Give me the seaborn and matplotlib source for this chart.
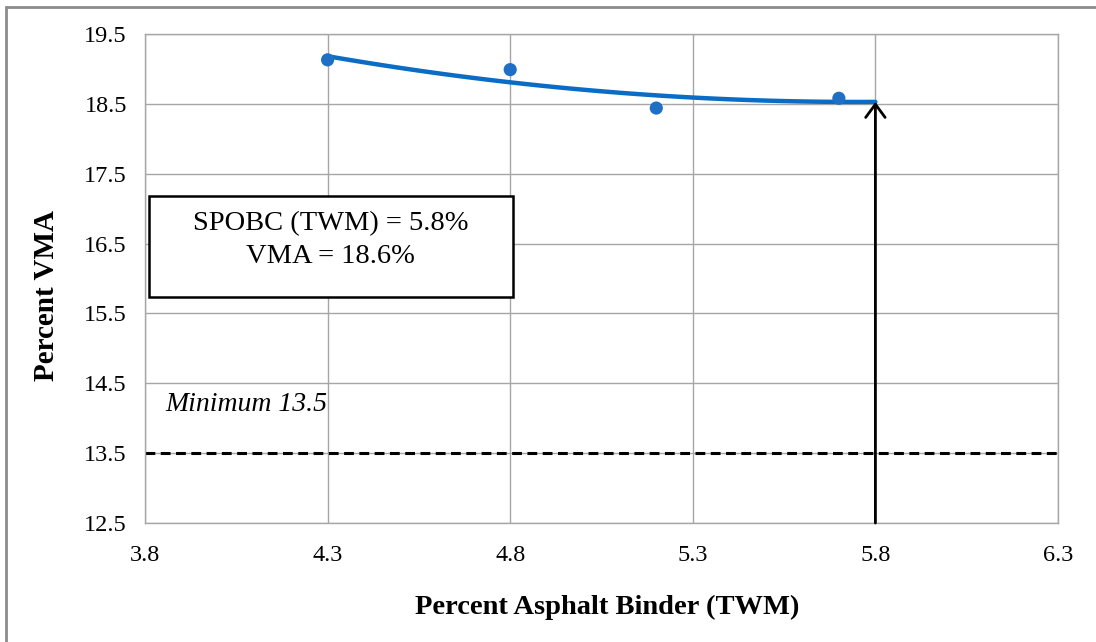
import numpy as np
import pandas as pd
import seaborn as sns
import matplotlib
matplotlib.use("Agg")
import matplotlib.pyplot as plt
from matplotlib.patches import Rectangle

# ---- data ----
binder = [4.3, 4.8, 5.2, 5.7]
vma = [19.13, 18.99, 18.44, 18.58]
x_ticks = [3.8, 4.3, 4.8, 5.3, 5.8, 6.3]
y_ticks = [12.5, 13.5, 14.5, 15.5, 16.5, 17.5, 18.5, 19.5]
optimum_binder = 5.8
minimum_vma = 13.5
box_text = "SPOBC (TWM) = 5.8%\nVMA = 18.6%"
min_text = "Minimum 13.5"

sns.set_style("white")
plt.rcParams['font.family'] = ['Liberation Serif', 'DejaVu Serif']
plt.rcParams['text.color'] = 'black'
plt.rcParams['axes.labelcolor'] = 'black'
plt.rcParams['xtick.labelcolor'] = 'black'
plt.rcParams['ytick.labelcolor'] = 'black'

fig = plt.figure(figsize=(10.96, 6.42), dpi=100)
ax = fig.add_axes([145/1096, 1-523/642, (1058-145)/1096, (523-34)/642])

df = pd.DataFrame({"binder": binder, "vma": vma})

# 2nd-order polynomial trendline from the data, forecast to the optimum
coef = np.polyfit(binder, vma, 2)
tx = np.linspace(binder[0], optimum_binder, 100)
trend = pd.DataFrame({"x": tx, "y": np.polyval(coef, tx)})
sns.lineplot(data=trend, x="x", y="y", ax=ax, color="#0A6CC4", lw=3.2, zorder=3)
sns.scatterplot(data=df, x="binder", y="vma", ax=ax, color="#1F6FC5", s=90,
                edgecolor="none", zorder=4)

# minimum line
ax.axhline(minimum_vma, color="black", ls=(0, (3.2, 1.8)), lw=2.2, zorder=2)
ax.text(3.855, 14.19, min_text, fontsize=20, style="italic", va="center", ha="left")

# arrow to optimum
yopt = np.polyval(coef, optimum_binder)
ax.annotate("", xy=(optimum_binder, yopt), xytext=(optimum_binder, y_ticks[0]),
            arrowprops=dict(arrowstyle="->,head_length=0.95,head_width=0.7",
                            color="black", lw=2, shrinkA=0, shrinkB=0), zorder=5)

# text box
ax.add_patch(Rectangle((0.004, 0.462), 0.399, 0.2065, transform=ax.transAxes,
                       facecolor="white", edgecolor="black", lw=1.8, zorder=6))
ax.text(0.2035, 0.578, box_text, transform=ax.transAxes, ha="center", va="center",
        fontsize=20.5, linespacing=1.42, zorder=7)

ax.set_xlim(x_ticks[0], x_ticks[-1])
ax.set_ylim(y_ticks[0], y_ticks[-1])
ax.set_xticks(x_ticks)
ax.set_yticks(y_ticks)
ax.set_xticklabels([f"{v:.1f}" for v in x_ticks])
ax.set_yticklabels([f"{v:.1f}" for v in y_ticks])
ax.grid(True, color="#a6a6a6", lw=1)
for s in ax.spines.values():
    s.set_color("#a6a6a6")
    s.set_linewidth(1)
ax.tick_params(axis="both", length=5, width=1, color="#a6a6a6", labelsize=17.5)
ax.tick_params(axis="x", pad=11)
ax.tick_params(axis="y", pad=8)

ax.set_xlabel("Percent Asphalt Binder (TWM)", fontsize=20.5, fontweight="bold")
ax.set_ylabel("Percent VMA", fontsize=21, fontweight="bold")
ax.xaxis.set_label_coords(0.506, -0.146)
ax.yaxis.set_label_coords(-0.093, 0.466)

# outer chart frame (partially cropped)
fig.add_artist(Rectangle((6/1096, -0.1), 1.2, (642-7)/642 + 0.1, transform=fig.transFigure,
                         facecolor="none", edgecolor="#8c8c8c", lw=2))

fig.savefig("out.png", dpi=100)
